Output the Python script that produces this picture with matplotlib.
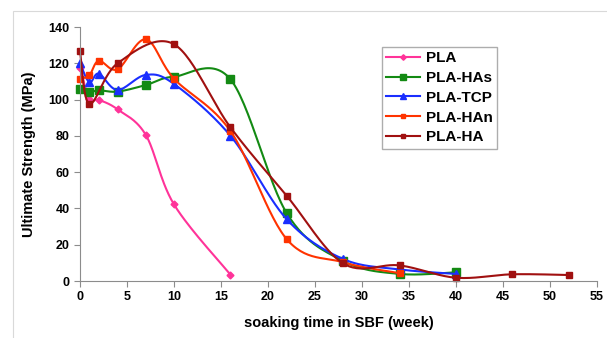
import numpy as np
import matplotlib.pyplot as plt
from matplotlib.patches import Rectangle

plt.rcParams['font.family'] = ['Liberation Sans', 'DejaVu Sans']

# datos
pla_x = [0, 1, 2, 4, 7, 10, 16]
pla_y = [117.5, 100.3, 99.8, 94.6, 80.5, 42.2, 3.5]

has_x = [0, 1, 2, 4, 7, 10, 16, 22, 28, 34, 40]
has_y = [106, 104.2, 105.1, 104.4, 108, 112.6, 111.2, 37.3, 11, 3.9, 4.8]

tcp_x = [0, 1, 2, 4, 7, 10, 16, 22, 28, 34, 40]
tcp_y = [120, 109.5, 114.3, 105.3, 113.6, 108.6, 80.1, 34, 12.1, 6.4, 3.9]

han_x = [0, 1, 2, 4, 7, 10, 16, 22, 28, 34]
han_y = [111.5, 113.4, 121.4, 116.7, 133.2, 111.5, 82.7, 23, 10.3, 4.3]

ha_x = [0, 1, 4, 10, 16, 22, 28, 34, 40, 46, 52]
ha_y = [126.8, 97.6, 120, 130.5, 84.7, 46.9, 9.7, 8.6, 1.8, 3.7, 3.3]

series = [
    ("PLA", pla_x, pla_y, "#ff3399", "D", 3.5),
    ("PLA-HAs", has_x, has_y, "#138a13", "s", 5.5),
    ("PLA-TCP", tcp_x, tcp_y, "#1a2eff", "^", 6),
    ("PLA-HAn", han_x, han_y, "#ff3300", "s", 4),
    ("PLA-HA", ha_x, ha_y, "#a01010", "s", 4),
]

# escala aproximada en pixeles para suavizar como Excel
SX = 9.4
SY = 1.814


def suavizar(x, y, n=30):
    p = np.column_stack([np.array(x) * SX, np.array(y) * SY])
    pts = np.vstack([p[0], p, p[-1]])
    out = []
    for i in range(1, len(pts) - 2):
        p0, p1, p2, p3 = pts[i - 1], pts[i], pts[i + 1], pts[i + 2]
        b1 = p1 + (p2 - p0) / 6
        b2 = p2 - (p3 - p1) / 6
        t = np.linspace(0, 1, n)[:, None]
        seg = ((1 - t) ** 3 * p1 + 3 * (1 - t) ** 2 * t * b1
               + 3 * (1 - t) * t ** 2 * b2 + t ** 3 * p2)
        out.append(seg)
    c = np.vstack(out)
    return c[:, 0] / SX, c[:, 1] / SY


fig = plt.figure(figsize=(6.07, 3.38), dpi=100)
fig.patches.append(Rectangle((13 / 607, -0.01), 1.0, 1 - 11 / 338 + 0.01,
                             transform=fig.transFigure, fill=False,
                             edgecolor="#d9d9d9", lw=0.8))
ax = fig.add_axes([80 / 607, 1 - 281 / 338, 517 / 607, 254 / 338])

for nombre, x, y, col, mk, ms in series:
    xs, ys = suavizar(x, y)
    ax.plot(xs, ys, color=col, lw=1.5, clip_on=False)
    ax.plot(x, y, ls="none", marker=mk, color=col, ms=ms, clip_on=False)
    ax.plot([], [], color=col, lw=1.5, marker=mk, ms=ms * 0.8, label=nombre)

ax.set_xlim(0, 55)
ax.set_ylim(0, 140)
ax.set_xticks(np.arange(0, 56, 5))
ax.set_yticks(np.arange(0, 141, 20))
for s in ["top", "right"]:
    ax.spines[s].set_visible(False)
for s in ["left", "bottom"]:
    ax.spines[s].set_color("#8c8c8c")
ax.tick_params(colors="#8c8c8c", length=4, labelcolor="black", labelsize=9)
for lab in ax.get_xticklabels() + ax.get_yticklabels():
    lab.set_fontweight("bold")

ax.set_xlabel("soaking time in SBF (week)", fontsize=10.5, fontweight="bold",
              labelpad=9)
ax.set_ylabel("Ultimate Strength (MPa)", fontsize=10.5, fontweight="bold",
              labelpad=9)

leg = fig.legend(loc="upper left", bbox_to_anchor=(374 / 607, 1 - 39 / 338),
                 frameon=True, fancybox=False, prop={"weight": "bold", "size": 11},
                 handlelength=2.2, labelspacing=0.38, borderpad=0.3,
                 handletextpad=0.4)
leg.get_frame().set_edgecolor("#999999")
leg.get_frame().set_linewidth(1.0)

fig.savefig("out.png", dpi=100)
